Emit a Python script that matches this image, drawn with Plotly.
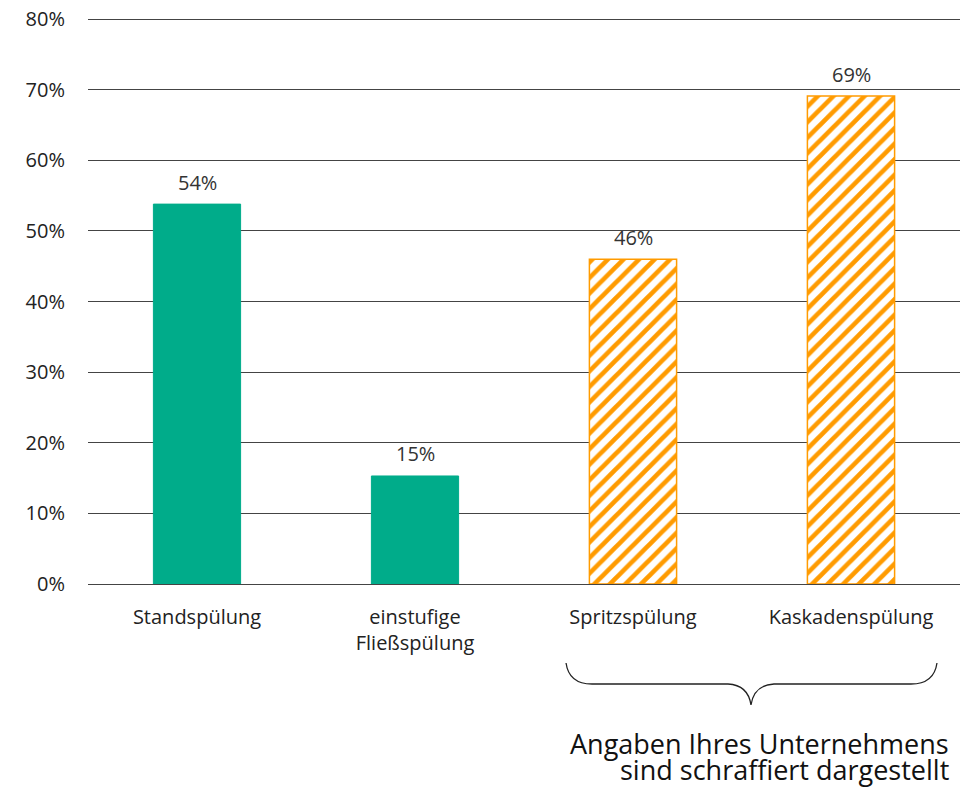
import plotly.graph_objects as go

# data
categories = ["Standspülung", "einstufige<br>Fließspülung", "Spritzspülung", "Kaskadenspülung"]
values = [53.8, 15.3, 46.0, 69.1]
hatched = [False, False, True, True]
y_ticks = [0, 10, 20, 30, 40, 50, 60, 70, 80]
note_lines = ["Angaben Ihres Unternehmens", "sind schraffiert dargestellt"]

GREEN = "#00AC8A"
ORANGE = "#FF9B00"
FONT = "Open Sans, Noto Sans, sans-serif"
TXT = "#222222"

# body margin is removed in the page, so figure == window
W, H = 969, 788
L, R, T, B = 88, 9, 17, 204
PW, PH = W - L - R, H - T - B


def px(x, y):
    # reference pixel position -> paper coords
    return (x - L) / PW, (H - B - y) / PH


fig = go.Figure()

solid_x = [c for c, h in zip(categories, hatched) if not h]
solid_y = [v for v, h in zip(values, hatched) if not h]
hatch_x = [c for c, h in zip(categories, hatched) if h]
hatch_y = [v for v, h in zip(values, hatched) if h]

fig.add_bar(x=solid_x, y=solid_y, width=0.4,
            marker=dict(color=GREEN, line=dict(color=GREEN, width=1)))
fig.add_bar(
    x=hatch_x, y=hatch_y, width=0.4,
    marker=dict(
        color="white",
        line=dict(color=ORANGE, width=1.5),
        pattern=dict(shape="/", fgcolor=ORANGE, fgopacity=1, size=11,
                     solidity=0.42, fillmode="overlay"),
    ),
)

for c, v in zip(categories, values):
    fig.add_annotation(
        x=c, y=v, text=f"{v:.0f}%", showarrow=False, yanchor="middle",
        yshift=22, font=dict(size=20, color="#333333", family=FONT),
    )

# brace under the hatched bars
def q(x, y):
    a, b = px(x, y)
    return f"{a:.4f},{b:.4f}"

path = (
    f"M{q(566, 663)} Q{q(569, 684)} {q(592, 684)} L{q(728, 684)} "
    f"Q{q(748, 685)} {q(751, 705)} "
    f"Q{q(754, 685)} {q(774, 684)} L{q(911, 684)} "
    f"Q{q(934, 684)} {q(937, 663)}"
)
fig.add_shape(type="path", xref="paper", yref="paper", path=path,
              line=dict(color="#222222", width=1.3))

for line, yy in zip(note_lines, [743, 770]):
    nx, ny = px(951, yy)
    fig.add_annotation(
        x=nx, y=ny, xref="paper", yref="paper", text=line, showarrow=False,
        xanchor="right", yanchor="middle",
        font=dict(size=27, color="#111111", family=FONT),
    )

fig.update_layout(
    width=W, height=H,
    margin=dict(l=L, r=R, t=T, b=B, autoexpand=False),
    plot_bgcolor="white", paper_bgcolor="white",
    showlegend=False, barmode="overlay",
    font=dict(family=FONT, color=TXT),
)
fig.update_yaxes(
    range=[0, 80.3], tickvals=y_ticks, ticktext=[f"{t}%" for t in y_ticks],
    showgrid=True, gridcolor="#444444", gridwidth=1,
    zeroline=True, zerolinecolor="#444444", zerolinewidth=1,
    tickfont=dict(size=20, color=TXT), ticklabelstandoff=22,
    ticklabeloverflow="allow", automargin=False,
    showline=False, fixedrange=True,
)
fig.update_xaxes(
    categoryorder="array", categoryarray=categories,
    showgrid=False, showline=False, automargin=False,
    tickfont=dict(size=20, color=TXT), ticklabelstandoff=19,
    fixedrange=True,
)

fig.write_html("out.html", config={"displayModeBar": False},
               post_script="document.body.style.margin='0px';")
